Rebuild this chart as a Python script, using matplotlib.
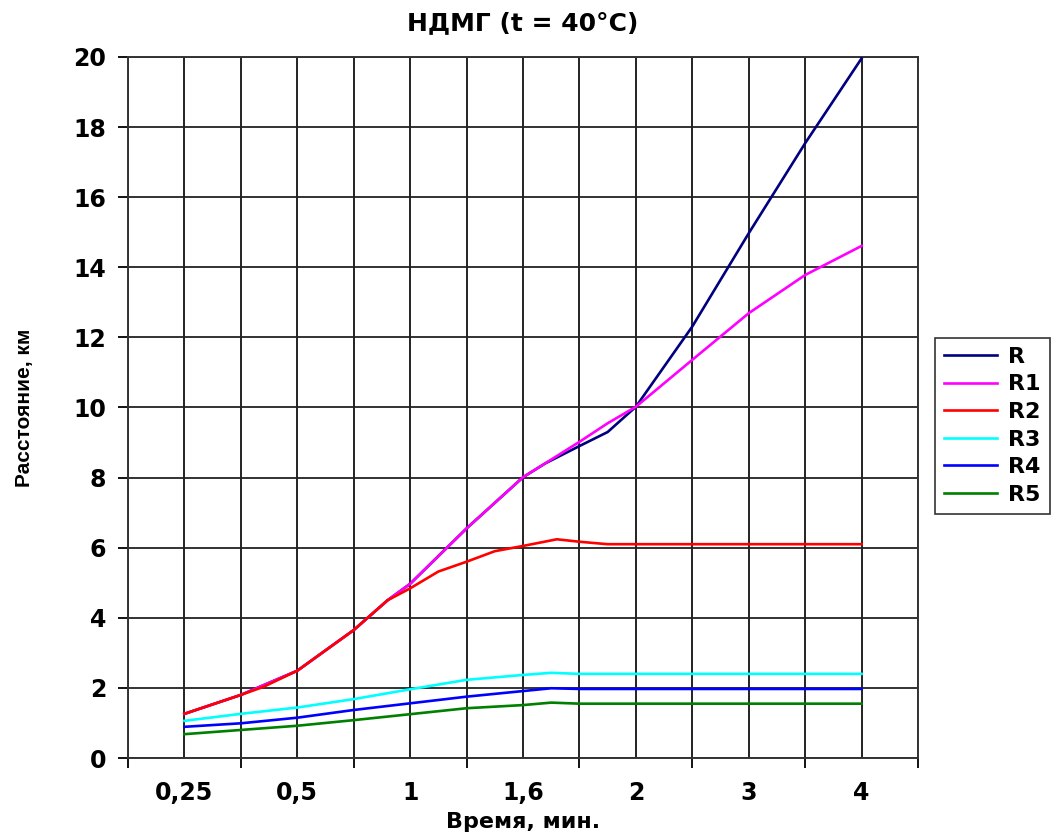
import matplotlib
matplotlib.use("Agg")
import matplotlib.pyplot as plt
import numpy as np

# ---- data ----
time_labels = ["0,25", "0,5", "1", "1,6", "2", "3", "4"]

# positions in half-category steps (1 = first category "0,25", 13 = last "4")
steps_R = [1, 2, 3, 4, 4.6, 5, 6, 7, 7.4, 8, 8.5, 9, 10, 11, 12, 13]
R = [1.26, 1.80, 2.49, 3.65, 4.50, 4.97, 6.55, 8.01, 8.41, 8.90, 9.30, 10.02, 12.31, 14.97, 17.54, 19.96]

steps_R1 = [1, 2, 3, 4, 4.6, 5, 6, 7, 8, 8.5, 9, 10, 11, 12, 13]
R1 = [1.26, 1.80, 2.49, 3.65, 4.50, 4.97, 6.55, 8.01, 9.02, 9.55, 10.02, 11.36, 12.69, 13.78, 14.61]

steps_R2 = [1, 2, 2.4, 3, 4, 4.6, 5, 5.5, 6, 6.5, 7, 7.6, 8, 8.5, 9, 10, 11, 12, 13]
R2 = [1.26, 1.80, 2.03, 2.49, 3.65, 4.50, 4.84, 5.32, 5.60, 5.90, 6.05, 6.24, 6.17, 6.10, 6.10, 6.10, 6.10, 6.10, 6.10]

steps_low = [1, 2, 3, 4, 5, 6, 7, 7.5, 8, 9, 10, 11, 12, 13]
R3 = [1.06, 1.26, 1.44, 1.68, 1.96, 2.23, 2.37, 2.43, 2.40, 2.40, 2.40, 2.40, 2.40, 2.40]
R4 = [0.89, 0.99, 1.15, 1.37, 1.56, 1.75, 1.91, 1.99, 1.97, 1.97, 1.97, 1.97, 1.97, 1.97]
R5 = [0.68, 0.80, 0.92, 1.08, 1.25, 1.42, 1.51, 1.58, 1.55, 1.55, 1.55, 1.55, 1.55, 1.55]

series = [
    ("R", steps_R, R, "#000080"),
    ("R1", steps_R1, R1, "#FF00FF"),
    ("R2", steps_R2, R2, "#FF0000"),
    ("R3", steps_low, R3, "#00FFFF"),
    ("R4", steps_low, R4, "#0000FF"),
    ("R5", steps_low, R5, "#008000"),
]

plt.rcParams['font.family'] = ['DejaVu Sans']

fig = plt.figure(figsize=(10.57, 8.36), dpi=100)
ax = fig.add_axes([128 / 1057, 1 - 758 / 836, 790 / 1057, 701 / 836])

for name, st, vals, col in series:
    x = np.asarray(st) / 2.0
    ax.plot(x, vals, color=col, lw=1.9, label=name, solid_joinstyle='round', zorder=3)

ax.set_xlim(0, 7)
ax.set_ylim(0, 20)

# x axis: tick marks between categories, labels at category centres
ax.set_xticks(np.arange(0, 8))
ax.set_xticklabels([])
ax.set_xticks(np.arange(len(time_labels)) + 0.5, minor=True)
ax.set_xticklabels(time_labels, minor=True, fontsize=17, fontweight='bold')
ax.tick_params(axis='x', which='major', direction='out', length=7.2, width=1.3, color='black')
ax.tick_params(axis='x', which='minor', length=0, pad=16.5)

ax.set_yticks(np.arange(0, 21, 2))
ax.set_yticklabels([str(v) for v in range(0, 21, 2)], fontsize=17, fontweight='bold')
ax.tick_params(axis='y', direction='out', length=7.2, width=1.3, color='black', pad=8.5)

ax.grid(True, which='both', axis='x', color='#222222', lw=1.4, zorder=1)
ax.grid(True, which='major', axis='y', color='#222222', lw=1.3, zorder=1)

for s in ax.spines.values():
    s.set_color('#333333')
    s.set_linewidth(1.4)

ax.set_title("НДМГ (t = 40°C)", fontsize=18, fontweight='bold', pad=19)
ax.set_xlabel("Время, мин.", fontsize=16, fontweight='bold', labelpad=5)
ax.set_ylabel("Расстояние, км", fontsize=15, fontweight='bold', labelpad=28,
              family=['Liberation Sans Narrow', 'Liberation Sans', 'DejaVu Sans'])

leg = fig.legend(loc='upper left', bbox_to_anchor=(935 / 1057, 1 - 338 / 836),
                 frameon=True, fancybox=False, edgecolor='black',
                 handlelength=2.4, handletextpad=0.5, labelspacing=0.34,
                 borderpad=0.4, borderaxespad=0,
                 prop={'weight': 'bold', 'size': 16})
leg.get_frame().set_linewidth(1.2)

fig.savefig("out.png", dpi=100)
